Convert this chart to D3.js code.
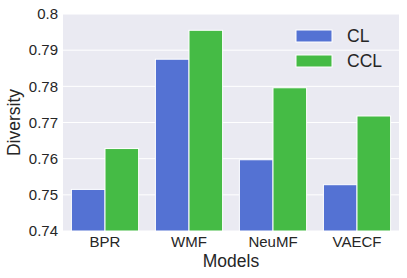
<!DOCTYPE html>
<html>
<head>
<meta charset="utf-8">
<script src="https://cdn.jsdelivr.net/npm/d3@7"></script>
<style>
  body { margin: 0; background: #fff; }
  svg text { font-family: "Liberation Sans", Arial, sans-serif; fill: #262626; }
</style>
</head>
<body>
<div id="chart"></div>
<script>
// data
const models = ["BPR", "WMF", "NeuMF", "VAECF"];
const seriesNames = ["CL", "CCL"];
const clValues = [0.7515, 0.7875, 0.7597, 0.7528];
const cclValues = [0.7628, 0.7955, 0.7796, 0.7718];
const yTicks = [0.74, 0.75, 0.76, 0.77, 0.78, 0.79, 0.8];
const colors = ["#5472d3", "#45bb45"];

const W = 407, H = 278;
let margin = { top: 14, right: 8, bottom: 47, left: 63 },
    width = W - margin.left - margin.right,
    height = H - margin.top - margin.bottom;

let svg = d3.select("#chart").append("svg")
    .attr("width", W)
    .attr("height", H)
    .append("g")
    .attr("transform", "translate(" + margin.left + "," + margin.top + ")");

svg.append("rect")
    .attr("width", width)
    .attr("height", height)
    .attr("fill", "#eaeaf2");

const x = d3.scaleBand().domain(models).range([0, width]).paddingInner(0.2).paddingOuter(0.1);
const xs = d3.scaleBand().domain(seriesNames).range([0, x.bandwidth()]);
const y = d3.scaleLinear().domain([0.74, 0.8]).range([height, 0]);

// grid
svg.append("g")
    .selectAll("line")
    .data(yTicks)
    .join("line")
    .attr("x1", 0).attr("x2", width)
    .attr("y1", d => y(d)).attr("y2", d => y(d))
    .attr("stroke", "#fff")
    .attr("stroke-width", 1);

// bars
const rows = [];
models.forEach((m, i) => {
    rows.push({ model: m, s: "CL", v: clValues[i] });
    rows.push({ model: m, s: "CCL", v: cclValues[i] });
});

svg.append("g")
    .selectAll("rect")
    .data(rows)
    .join("rect")
    .attr("x", d => x(d.model) + xs(d.s))
    .attr("y", d => y(d.v))
    .attr("width", xs.bandwidth())
    .attr("height", d => height - y(d.v))
    .attr("fill", d => colors[seriesNames.indexOf(d.s)])
    .attr("stroke", "#fff")
    .attr("stroke-width", 1);

// y axis
const yAxis = svg.append("g")
    .call(d3.axisLeft(y).tickValues(yTicks).tickSize(0).tickPadding(5).tickFormat(d => String(+d.toFixed(2))));
yAxis.select(".domain").remove();
yAxis.selectAll("text").style("font-size", "15px").attr("fill", "#262626");

// x axis
const xAxis = svg.append("g")
    .attr("transform", "translate(0," + height + ")")
    .call(d3.axisBottom(x).tickSize(0).tickPadding(5));
xAxis.select(".domain").remove();
xAxis.selectAll("text").style("font-size", "15px").attr("fill", "#262626");

// axis labels
svg.append("text")
    .attr("x", width / 2)
    .attr("y", height + 36)
    .attr("text-anchor", "middle")
    .style("font-size", "17.5px")
    .text("Models");

svg.append("text")
    .attr("transform", "translate(" + (-43) + "," + (height / 2) + ") rotate(-90)")
    .attr("text-anchor", "middle")
    .style("font-size", "17.5px")
    .text("Diversity");

// legend
const legend = svg.append("g")
    .attr("transform", "translate(" + (296 - margin.left) + "," + (30 - margin.top) + ")");
seriesNames.forEach((s, i) => {
    legend.append("rect")
        .attr("x", 0).attr("y", i * 25)
        .attr("width", 36).attr("height", 12)
        .attr("fill", colors[i])
        .attr("stroke", "#fff").attr("stroke-width", 1);
    legend.append("text")
        .attr("x", 51).attr("y", i * 25 + 6)
        .attr("dy", "0.35em")
        .style("font-size", "17.5px")
        .text(s);
});
</script>
</body>
</html>
